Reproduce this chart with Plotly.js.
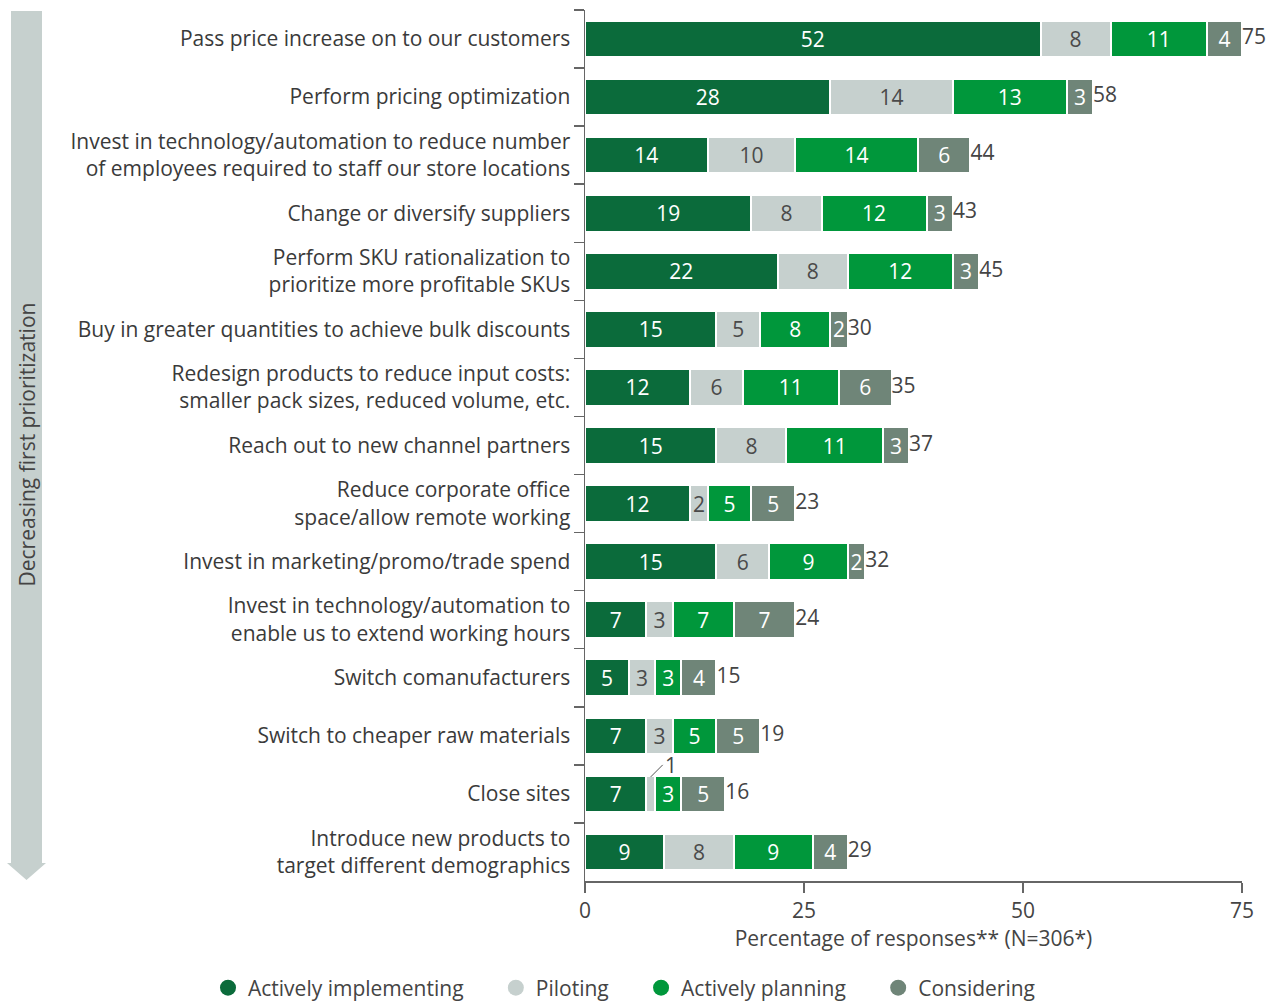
<!DOCTYPE html>
<html>
<head>
<meta charset="utf-8">
<script src="https://cdn.plot.ly/plotly-3.0.1.min.js"></script>
<style>html,body{margin:0;padding:0;background:#fff;}#chart{width:1281px;height:1002px;}</style>
</head>
<body>
<div id="chart"></div>
<script>
const categories = [
  "Pass price increase on to our customers",
  "Perform pricing optimization",
  "Invest in technology/automation to reduce number<br>of employees required to staff our store locations",
  "Change or diversify suppliers",
  "Perform SKU rationalization to<br>prioritize more profitable SKUs",
  "Buy in greater quantities to achieve bulk discounts",
  "Redesign products to reduce input costs:<br>smaller pack sizes, reduced volume, etc.",
  "Reach out to new channel partners",
  "Reduce corporate office<br>space/allow remote working",
  "Invest in marketing/promo/trade spend",
  "Invest in technology/automation to<br>enable us to extend working hours",
  "Switch comanufacturers",
  "Switch to cheaper raw materials",
  "Close sites",
  "Introduce new products to<br>target different demographics"
];
const activelyImplementing = [52, 28, 14, 19, 22, 15, 12, 15, 12, 15, 7, 5, 7, 7, 9];
const piloting             = [8, 14, 10, 8, 8, 5, 6, 8, 2, 6, 3, 3, 3, 1, 8];
const activelyPlanning     = [11, 13, 14, 12, 12, 8, 11, 11, 5, 9, 7, 3, 5, 3, 9];
const considering          = [4, 3, 6, 3, 3, 2, 6, 3, 5, 2, 7, 4, 5, 5, 4];
const totals               = [75, 58, 44, 43, 45, 30, 35, 37, 23, 32, 24, 15, 19, 16, 29];
const seriesNames = ["Actively implementing", "Piloting", "Actively planning", "Considering"];
const xTicks = [0, 25, 50, 75];

const colors = ["#0b6b3b", "#c6d0ce", "#00973b", "#6f8578"];
const textColors = ["#ffffff", "#4a4a4a", "#ffffff", "#ffffff"];
const FONT = "'Open Sans', Lato, sans-serif";
const FS = 21;
const seriesValues = [activelyImplementing, piloting, activelyPlanning, considering];

const traces = [];
seriesValues.forEach((vals, i) => {
  traces.push({
    type: "bar", orientation: "h", name: seriesNames[i],
    y: categories, x: vals,
    marker: {color: colors[i], line: {color: "#ffffff", width: 2}},
    text: vals.map(v => v >= 2 ? String(v) : ""),
    textposition: "inside", insidetextanchor: "middle", constraintext: "none",
    textfont: {family: FONT, size: FS, color: textColors[i]},
    showlegend: false, hoverinfo: "x+y"
  });
});
// total labels at the end of each bar
const barEnds = categories.map((c, k) => seriesValues.reduce((s, arr) => s + arr[k], 0));
traces.push({
  type: "scatter", mode: "text", y: categories, x: barEnds,
  text: totals.map(String), textposition: "middle right",
  textfont: {family: FONT, size: FS, color: "#444444"},
  cliponaxis: false, showlegend: false, hoverinfo: "skip"
});
// legend entries with circle markers (trailing no-break spaces widen the gap between items)
const legendPad = "\u00a0\u00a0\u00a0\u00a0\u00a0";
seriesNames.forEach((n, i) => {
  traces.push({
    type: "scatter", mode: "markers", name: n + (i < seriesNames.length - 1 ? legendPad : ""),
    x: [null], y: [null],
    marker: {color: colors[i], size: 17, symbol: "circle"}, showlegend: true, hoverinfo: "skip"
  });
});

// pixel -> paper helpers (plot area: x 585..1242, y 10..881)
const L = 585, R = 39, T = 10, B = 121;
const PW = 1281 - L - R, PH = 1002 - T - B;
const px = v => (v - L) / PW;
const py = v => (1002 - B - v) / PH;

const arrowPath = `M ${px(11)} ${py(11)} L ${px(42)} ${py(11)} L ${px(42)} ${py(863)} L ${px(46)} ${py(863)} L ${px(26.5)} ${py(880)} L ${px(7)} ${py(863)} L ${px(11)} ${py(863)} Z`;

const closeIdx = categories.indexOf("Close sites");
const layout = {
  width: 1281, height: 1002,
  margin: {l: L, r: R, t: T, b: B, pad: 0, autoexpand: false},
  paper_bgcolor: "#ffffff", plot_bgcolor: "#ffffff",
  barmode: "stack", bargap: 0.37,
  font: {family: FONT, size: FS, color: "#3a3a3a"},
  xaxis: {
    range: [0, 75], tickvals: xTicks, ticktext: xTicks.map(String),
    showgrid: false, zeroline: false, showline: true, linecolor: "#666666", linewidth: 1.5,
    ticks: "outside", ticklen: 10, tickcolor: "#666666", tickwidth: 1.5,
    tickfont: {family: FONT, size: FS, color: "#444444"},
    title: {text: "Percentage of responses** (N=306*)", font: {family: FONT, size: FS, color: "#444444"}, standoff: 4},
    fixedrange: true
  },
  yaxis: {
    type: "category", range: [categories.length - 0.5, -0.5],
    showgrid: false, zeroline: false, showline: true, linecolor: "#666666", linewidth: 1.5,
    ticks: "outside", tickson: "boundaries", ticklen: 10, tickcolor: "#666666", tickwidth: 1.5,
    ticklabelstandoff: 9,
    tickfont: {family: FONT, size: FS, color: "#3a3a3a"},
    fixedrange: true
  },
  legend: {
    orientation: "h", xref: "paper", yref: "paper",
    x: px(208), xanchor: "left", y: py(988), yanchor: "middle",
    font: {family: FONT, size: FS, color: "#444444"},
    traceorder: "normal"
  },
  shapes: [{type: "path", xref: "paper", yref: "paper", path: arrowPath,
            fillcolor: "#c6d0ce", line: {width: 0}, layer: "below"}],
  annotations: [
    {xref: "paper", yref: "paper", x: px(26.5), y: py(445), xanchor: "center", yanchor: "middle",
     text: "Decreasing first prioritization",
     textangle: -90, showarrow: false, font: {family: FONT, size: FS, color: "#444444"}},
    {x: activelyImplementing[closeIdx] + piloting[closeIdx] / 2, y: categories[closeIdx], yshift: 17,
     text: String(piloting[closeIdx]), showarrow: true, arrowhead: 0, arrowwidth: 1, arrowcolor: "#555555",
     ax: 12, ay: -12, xanchor: "left", yanchor: "middle",
     font: {family: FONT, size: FS, color: "#444444"}}
  ]
};

Plotly.newPlot("chart", traces, layout, {displayModeBar: false, staticPlot: true});
</script>
</body>
</html>
